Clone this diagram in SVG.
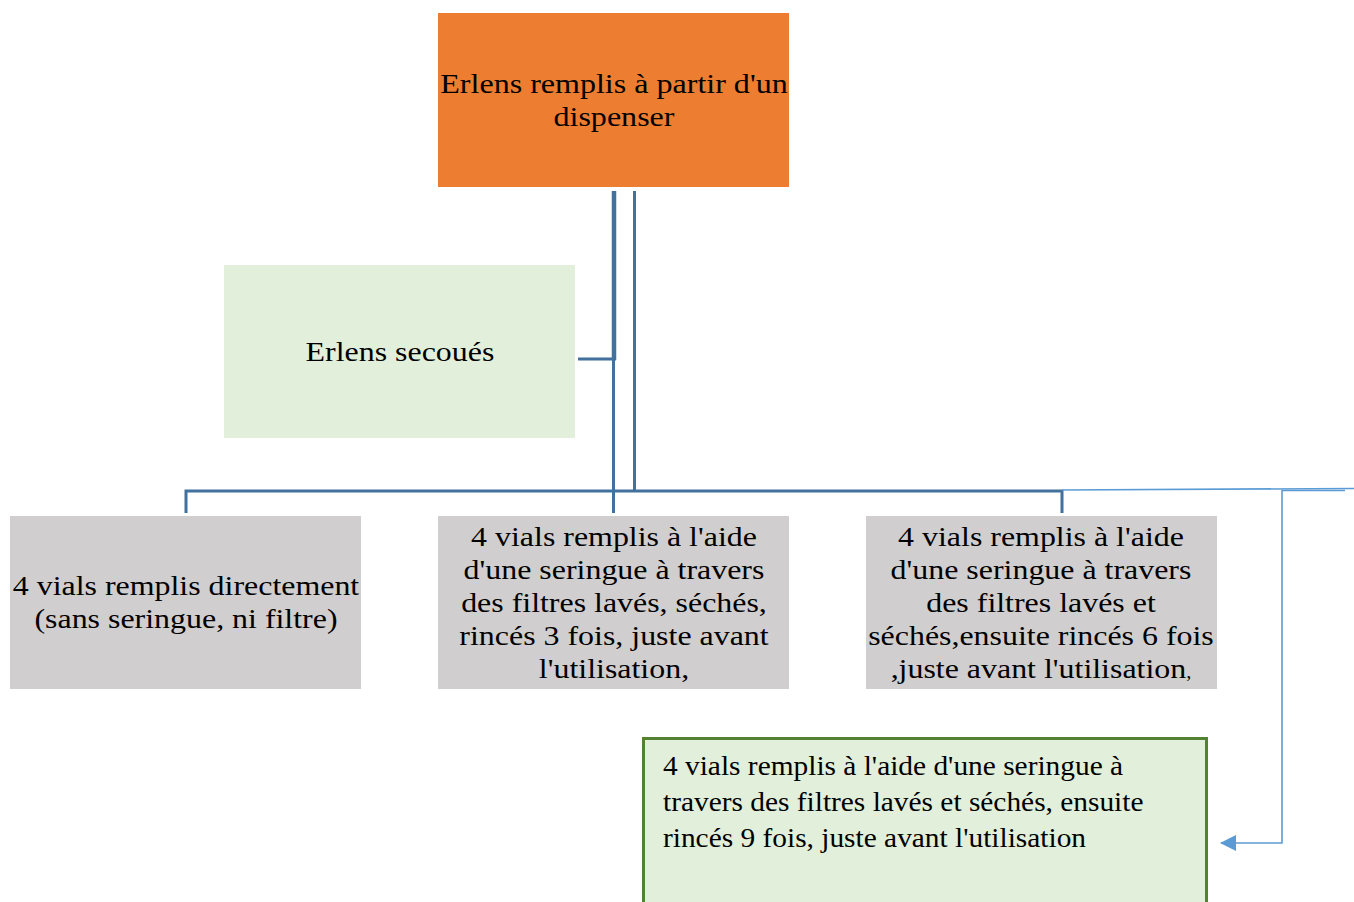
<svg xmlns="http://www.w3.org/2000/svg" width="1354" height="902" viewBox="0 0 1354 902">
<style>
text{font-family:"Liberation Serif","Times New Roman",serif;font-size:28px;fill:#000}
.c{text-anchor:middle}
.dk{stroke:#41719C;stroke-width:3;fill:none}
.lt{stroke:#5B9BD5;stroke-width:1.6;fill:none}
</style>
<defs>
<marker id="ah" markerWidth="16" markerHeight="16" refX="15" refY="8" orient="auto" markerUnits="userSpaceOnUse">
<path d="M0,0 L16,8 L0,16 Z" fill="#5B9BD5"/>
</marker>
</defs>
<rect width="1354" height="902" fill="#fff"/>
<g id="connectors">
<path class="dk" d="M614,191 V360" style="stroke-width:4.5"/>
<path class="dk" d="M578,359 H616"/>
<path class="dk" d="M613.5,360 V513"/>
<path class="dk" d="M634.5,191 V491"/>
<path class="dk" d="M186,513 V491 H1062 V513"/>
<path class="lt" d="M1062,490 L1354,488.5"/>
<path class="lt" d="M1345,490.5 H1282 V843 H1221" marker-end="url(#ah)"/>
</g>
<g id="n1">
<rect x="438" y="13" width="351" height="174" fill="#ED7D31"/>
<g transform="translate(614,0) scale(1.145,1) translate(-614,0)">
<text class="c" x="614" y="93">Erlens remplis à partir d'un</text>
<text class="c" x="614" y="126">dispenser</text>
</g>
</g>
<g id="n2">
<rect x="224" y="265" width="351" height="173" fill="#E2EFDA"/>
<g transform="translate(400,0) scale(1.14,1) translate(-400,0)">
<text class="c" x="400" y="361">Erlens secoués</text>
</g>
</g>
<g id="n3">
<rect x="10" y="516" width="351" height="173" fill="#D0CECE"/>
<g transform="translate(186,0) scale(1.14,1) translate(-186,0)">
<text class="c" x="186" y="595">4 vials remplis directement</text>
<text class="c" x="186" y="628">(sans seringue, ni filtre)</text>
</g>
</g>
<g id="n4">
<rect x="438" y="516" width="351" height="173" fill="#D0CECE"/>
<g transform="translate(614,0) scale(1.14,1) translate(-614,0)">
<text class="c" x="614" y="546">4 vials remplis à l'aide</text>
<text class="c" x="614" y="579">d'une seringue à travers</text>
<text class="c" x="614" y="612">des filtres lavés, séchés,</text>
<text class="c" x="614" y="645">rincés 3 fois, juste avant</text>
<text class="c" x="614" y="678">l'utilisation,</text>
</g>
</g>
<g id="n5">
<rect x="866" y="516" width="351" height="173" fill="#D0CECE"/>
<g transform="translate(1041,0) scale(1.14,1) translate(-1041,0)">
<text class="c" x="1041" y="546">4 vials remplis à l'aide</text>
<text class="c" x="1041" y="579">d'une seringue à travers</text>
<text class="c" x="1041" y="612">des filtres lavés et</text>
<text class="c" x="1041" y="645">séchés,ensuite rincés 6 fois</text>
<text class="c" x="1041" y="678">,juste avant l'utilisation<tspan font-size="18">,</tspan></text>
</g>
</g>
<g id="n6">
<rect x="643.5" y="738.5" width="563" height="180" fill="#E2EFDA" stroke="#548235" stroke-width="3"/>
<g transform="translate(663,0) scale(1.05,1) translate(-663,0)">
<text x="663" y="775">4 vials remplis à l'aide d'une seringue à</text>
<text x="663" y="811">travers des filtres lavés et séchés, ensuite</text>
<text x="663" y="847">rincés 9 fois, juste avant l'utilisation</text>
</g>
</g>
</svg>
